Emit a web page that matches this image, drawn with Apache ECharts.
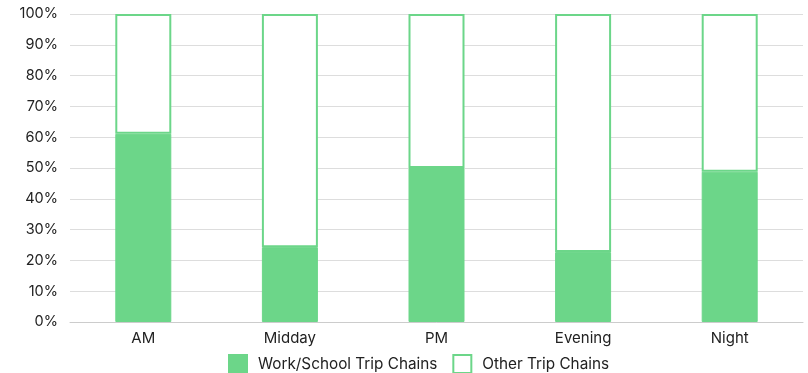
<!DOCTYPE html>
<html><head><meta charset="utf-8">
<script src="https://cdn.jsdelivr.net/npm/echarts@6/dist/echarts.min.js"></script>
<style>html,body{margin:0;padding:0;background:#fff}#c{width:808px;height:373px}</style>
</head><body><div id="c"></div>
<script>
const categories = ['AM', 'Midday', 'PM', 'Evening', 'Night'];
const workSchool = [61.1, 24.3, 50.0, 22.7, 48.8];
const other = [38.9, 75.7, 50.0, 77.3, 51.2];
const yTicks = [0, 10, 20, 30, 40, 50, 60, 70, 80, 90, 100];

const green = '#6cd689';
const font = 'Inter';
const chart = echarts.init(document.getElementById('c'), null, {renderer: 'canvas'});
chart.setOption({
  animation: false,
  grid: {left: 70, right: 5, top: 14, bottom: 51, containLabel: false},
  legend: {
    top: 354, left: 228, padding: 0, itemWidth: 18, itemHeight: 18, itemGap: 15,
    textStyle: {fontFamily: font, fontSize: 15.3, color: '#222', padding: [0, 0, 0, 6]},
    data: [
      {name: 'Work/School Trip Chains', icon: 'rect', itemStyle: {color: green}},
      {name: 'Other Trip Chains', icon: 'rect', itemStyle: {color: '#fff', borderColor: green, borderWidth: 2}}
    ]
  },
  xAxis: {
    type: 'category', data: categories,
    axisLine: {lineStyle: {color: '#ccc'}},
    axisTick: {show: false},
    axisLabel: {fontFamily: font, fontSize: 15, color: '#222', margin: 9}
  },
  yAxis: {
    type: 'value', min: 0, max: 100, interval: 10,
    axisLine: {show: false}, axisTick: {show: false},
    splitLine: {lineStyle: {color: '#ddd'}},
    axisLabel: {fontFamily: font, fontSize: 14.5, color: '#222', margin: 12,
      formatter: v => yTicks.includes(v) ? v + '%' : ''}
  },
  series: [
    {name: 'Work/School Trip Chains', type: 'bar', stack: 's', data: workSchool, barWidth: 56,
     itemStyle: {color: green, borderColor: green, borderWidth: 1}},
    {name: 'Other Trip Chains', type: 'bar', stack: 's', data: other, barWidth: 56,
     itemStyle: {color: '#fff', borderColor: green, borderWidth: 2}}
  ]
});
</script></body></html>
